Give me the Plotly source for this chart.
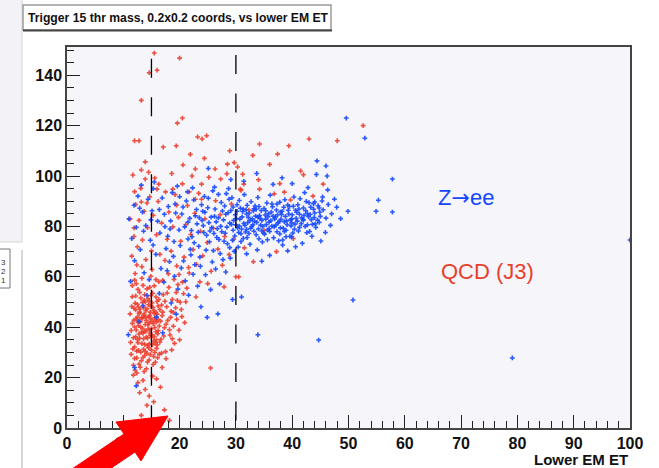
import plotly.graph_objects as go

# ---------------- data ----------------
zee_points = [
    (22.1,78.4),(22.8,84.2),(23.4,72.1),(23.9,88.6),(24.2,80.3),(24.8,76.5),(25.1,91.2),(25.6,83.7),(26.0,70.4),(26.3,86.9),
    (26.7,79.1),(27.0,74.8),(27.4,89.5),(27.8,82.6),(28.1,77.3),(28.3,93.0),(28.6,85.4),(28.9,71.6),(29.2,80.8),(29.5,87.7),
    (29.8,76.2),(30.1,83.1),(30.3,79.4),(30.6,90.3),(30.9,74.0),(31.2,85.9),(31.4,81.2),(31.7,77.8),(32.0,88.4),(32.2,83.6),
    (32.5,72.9),(32.8,79.9),(33.1,86.2),(33.3,82.0),(33.6,76.7),(33.9,91.5),(34.2,84.3),(34.4,80.5),(34.7,73.8),(35.0,87.1),
    (35.3,82.9),(35.6,78.6),(35.8,85.0),(36.1,92.4),(36.4,80.1),(36.7,75.5),(37.0,83.8),(37.3,88.9),(37.5,81.4),(37.8,77.0),
    (38.1,84.7),(38.4,79.3),(38.7,90.6),(39.0,82.2),(39.3,86.4),(39.6,76.1),(39.9,83.0),(40.2,88.0),(40.5,80.9),(40.8,85.6),
    (41.1,78.2),(41.4,91.0),(41.7,83.4),(42.0,87.3),(42.3,80.0),(42.7,85.1),(43.0,89.4),(43.4,82.7),(43.8,86.8),(44.2,79.6),
    (44.6,88.2),(45.0,84.0),(45.3,90.1),
    (22.5,90.5),(23.1,81.0),(23.6,67.8),(24.5,85.6),(25.3,73.9),(25.9,94.1),(26.5,81.8),(27.2,69.2),(27.6,86.1),(28.4,79.7),
    (28.8,90.8),(29.4,74.5),(29.9,84.6),(30.4,71.8),(30.8,87.2),(31.0,79.0),(31.5,92.6),(31.9,84.9),(32.3,77.2),(32.7,89.8),
    (33.0,80.6),(33.5,84.1),(33.8,70.7),(34.1,87.9),(34.6,82.4),(35.1,76.9),(35.5,89.3),(35.9,81.7),(36.3,85.7),(36.8,79.8),
    (37.2,86.5),(37.6,74.3),(38.0,82.8),(38.5,87.6),(38.9,78.5),(39.4,84.9),(39.8,80.2),(40.3,91.7),(40.7,83.2),(41.2,86.9),
    (41.6,81.1),(42.1,84.4),(42.5,89.9),(42.9,83.9),(43.6,80.8),(44.0,85.3),(44.5,82.5),(45.5,86.6),(46.0,83.3),(46.4,88.7),
    (47.0,85.0),
    (29.6,82.4),(30.0,80.6),(30.2,86.0),(30.5,77.6),(30.7,82.9),(31.1,83.8),(31.3,75.2),(31.6,80.4),(31.8,86.6),(32.1,81.5),
    (32.4,85.3),(32.6,79.2),(32.9,83.0),(33.2,78.1),(33.4,88.1),(33.7,81.6),(34.0,79.0),(34.3,83.2),(34.5,86.3),(34.8,80.0),
    (34.9,77.4),(35.2,84.5),(35.4,80.7),(35.7,83.9),(36.0,78.0),(36.2,82.3),(36.5,87.8),(36.9,83.0),(37.1,80.5),(37.4,84.6),
    (37.7,82.0),(37.9,79.4),(38.2,86.0),(38.6,81.9),(38.8,84.0),(39.1,80.7),(39.5,87.9),(39.7,82.6),(40.0,84.6),(40.4,78.9),
    (40.9,82.1),(41.3,84.8),(41.9,82.8),(42.4,86.2),(43.2,84.7),(43.9,83.5),(44.8,81.6),
    (20.1,72.4),(20.4,84.9),(20.7,66.3),(20.9,79.8),(21.2,90.1),(21.5,75.0),(21.8,83.2),(22.0,68.7),(22.3,95.3),(22.6,73.5),
    (23.0,86.7),(23.3,77.7),(23.7,64.2),(24.0,82.4),(24.4,91.9),(24.7,70.6),(25.0,87.4),(25.4,78.2),(25.8,65.9),(26.2,84.0),
    (26.6,75.6),(26.9,92.7),(27.3,80.0),(27.7,66.8),(28.0,88.1),(28.5,73.1),(28.7,95.0),(29.0,67.4),(29.3,91.4),(29.7,70.1),
    (17.2,57.9),(17.8,62.4),(18.5,49.6),(19.1,60.2),(19.7,55.1),(20.3,63.5),(21.0,58.4),(21.6,52.7),(22.4,61.0),(23.2,56.3),
    (23.8,48.1),(24.6,60.8),(25.5,54.9),(26.4,63.1),(27.1,57.2),(28.2,61.9),(29.4,51.0),(31.0,52.0),(26.8,45.3),(24.9,43.9),
    (22.7,64.8),(19.4,45.2),(18.2,66.0),
    (11.0,83.0),(11.5,75.2),(11.9,88.4),(12.3,79.6),(12.6,92.0),(13.0,70.8),(13.4,85.7),(13.7,61.6),(14.0,80.3),(14.4,90.8),
    (14.8,74.5),(15.1,86.2),(15.5,97.6),(15.8,68.9),(16.1,82.1),(16.5,77.4),(16.9,91.3),(17.3,84.8),(17.6,71.2),(18.0,87.9),
    (18.3,79.0),(18.7,93.4),(19.0,74.0),(19.3,85.3),(19.6,96.0),(19.9,78.6),(13.2,96.4),(12.0,66.4),(14.6,58.9),(16.7,63.3),
    (18.9,68.1),(17.9,76.1),(15.3,72.6),(11.3,58.2),(15.3,95.0),(21.4,93.7),
    (10.9,37.0),(12.0,24.0),(12.3,16.7),(13.5,48.5),(14.2,52.6),(15.9,44.0),(16.4,53.4),(12.8,42.3),(17.0,37.8),
    (25.1,103.0),(33.7,101.0),(40.0,97.0),(26.2,95.6),(36.6,96.7),(42.8,95.4),(38.2,99.3),(31.4,97.9),(44.3,100.6),
    (46.3,94.5),(29.1,98.6),
    (49.6,123.0),(52.9,115.0),(44.4,106.0),(46.0,104.0),(46.2,100.0),(57.8,98.8),(55.3,90.4),(49.9,86.0),(54.9,86.0),
    (57.8,85.7),(100.0,74.6),(50.8,50.8),(44.7,34.9),(79.1,27.8),(33.9,37.0),(45.4,91.7),(44.8,87.3),(44.0,89.7),(47.5,90.8),
    (46.8,80.4),(45.9,77.6),(43.5,76.1),(41.8,73.3),(40.6,71.9),(38.3,72.6),(42.2,93.4),(47.9,87.6),(48.6,83.1),(43.1,78.0),
    (39.2,70.3),(36.0,68.5),(34.6,66.2),(31.9,69.1),(45.1,74.2),(39.9,75.8),(38.3,74.6),
    (24.1,86.0),(25.7,79.5),(26.9,83.4),(27.5,77.9),(28.2,84.8),(28.9,81.3),(29.5,78.5),(30.2,88.6),(30.6,80.1),(31.3,86.9),
    (31.9,78.8),(32.5,82.3),(33.2,87.0),(33.9,83.7),(34.6,78.2),(35.3,86.2),(35.9,79.1),(36.6,84.1),(37.3,77.9),(37.9,85.7),
    (38.6,78.0),(39.2,88.5),(39.9,81.4),(40.6,86.4),(41.3,79.6),(42.0,82.5),(42.7,80.6),(43.3,87.6),(44.1,81.0),(44.9,85.6),
    (21.5,81.7),(22.2,75.9),(23.5,83.5),(24.3,77.6),(25.2,81.5),(26.1,77.2),(27.9,74.1),(29.1,86.3),(30.9,77.1),(32.0,75.6),
    (33.6,86.8),(34.1,75.1),(35.6,74.7),(36.4,88.9),(37.8,89.6),(38.9,75.9),(40.1,77.4),(41.0,88.6),(42.6,77.5),(43.8,89.0),
    (18.4,82.2),(19.2,88.9),(20.6,87.7),(21.9,70.9),(16.4,86.7),(14.9,82.6),(13.6,78.1),(12.9,87.2),(17.4,79.9),(20.0,91.8),
]

qcd_points = [
    (11.2,45.3),(11.4,38.7),(11.6,52.1),(11.7,31.4),(11.9,42.8),(12.0,27.6),(12.1,49.5),(12.2,36.2),(12.3,57.3),(12.4,21.8),
    (12.5,44.0),(12.6,33.9),(12.7,40.6),(12.8,25.3),(12.9,53.8),(13.0,47.2),(13.1,30.1),(13.2,38.0),(13.3,59.4),(13.4,43.5),
    (13.5,18.9),(13.6,35.4),(13.7,50.7),(13.8,28.8),(13.9,41.1),(14.0,46.6),(14.1,23.5),(14.2,55.2),(14.3,32.7),(14.4,39.3),
    (14.5,48.9),(14.6,27.0),(14.7,44.7),(14.8,36.8),(14.9,52.6),(15.0,30.9),(15.1,42.2),(15.2,20.6),(15.3,47.8),(15.4,34.5),
    (15.5,56.4),(15.6,39.9),(15.7,26.1),(15.8,45.9),(15.9,31.6),(16.0,50.2),(16.1,37.4),(16.2,43.0),(16.3,58.1),(16.4,29.3),
    (16.5,47.0),
    (11.3,34.0),(11.5,48.2),(11.8,24.9),(12.0,40.1),(12.2,46.9),(12.4,30.5),(12.6,55.0),(12.8,37.3),(13.0,42.1),(13.2,26.7),
    (13.4,49.8),(13.6,44.4),(13.8,33.2),(14.0,38.5),(14.2,29.6),(14.4,51.3),(14.6,41.7),(14.8,46.0),(15.0,35.9),(15.2,53.5),
    (15.4,28.4),(15.6,43.8),(15.8,38.2),(16.0,33.0),(16.2,48.4),(16.4,40.5),(12.1,61.3),(13.3,64.0),(14.9,60.2),(11.6,56.5),
    (12.5,35.1),(12.9,46.0),(13.1,40.0),(13.5,37.6),(13.7,45.2),(13.9,50.0),(14.1,42.6),(14.3,35.7),(14.5,44.1),(14.7,39.0),
    (14.9,48.3),(15.1,37.0),(15.3,41.4),(15.5,45.5),(15.7,33.8),(12.3,43.2),(12.7,48.0),(13.6,31.2),(14.6,33.4),(15.9,42.0),
    (11.4,29.2),(11.6,41.5),(11.8,35.8),(11.9,47.6),(12.0,32.2),(12.1,22.9),(12.2,52.4),(12.3,38.9),(12.4,27.8),(12.5,49.1),
    (12.6,41.9),(12.7,30.8),(12.8,45.4),(12.9,35.6),(13.0,24.1),(13.1,51.6),(13.2,43.7),(13.3,33.5),(13.4,39.6),(13.5,28.0),
    (13.6,47.9),(13.7,38.3),(13.8,52.9),(13.9,30.4),(14.0,43.9),(14.1,36.1),(14.2,47.3),(14.3,26.2),(14.4,41.0),(14.5,31.8),
    (14.6,50.4),(14.7,37.7),(14.8,29.1),(14.9,43.3),(15.0,39.4),(15.1,49.6),(15.2,33.1),(15.3,25.2),(15.4,46.7),(15.5,36.3),
    (15.6,30.0),(15.7,42.8),(15.8,52.0),(15.9,35.0),(16.0,45.2),(16.1,27.9),(16.2,38.6),(16.3,51.0),(16.5,34.1),(16.6,42.4),
    (16.8,29.7),(17.0,46.0),(17.2,36.5),(17.4,50.3),(17.6,41.2),(12.0,58.7),(13.5,56.6),(14.7,55.8),(15.8,58.9),(17.8,53.6),
    (18.2,39.0),(18.9,45.9),(19.4,53.8),(20.3,47.0),(21.1,50.1),(19.9,60.9),(21.6,63.7),(22.9,52.0),(20.5,57.9),(18.7,35.4),
    (12.6,18.0),(13.9,15.3),(14.6,12.7),(15.9,19.5),(12.9,14.0),(15.4,10.4),(16.6,16.2),(13.2,5.0),(17.3,7.2),(18.2,3.0),
    (11.8,21.0),(14.2,9.0),(13.7,22.4),(16.9,24.0),
    (16.7,35.2),(16.9,44.6),(17.1,52.9),(17.3,39.8),(17.5,30.3),(17.7,48.1),(17.9,42.7),(18.1,55.8),(18.3,36.9),(18.5,46.3),
    (18.7,51.0),(18.9,40.4),(19.1,33.6),(19.3,47.7),(19.5,43.1),(19.7,56.9),(19.9,38.8),(20.1,49.9),(20.4,44.2),(20.7,53.3),
    (17.0,58.6),(18.0,61.2),(19.0,59.0),(17.6,27.5),(18.6,31.0),(20.0,35.0),(16.8,48.8),(18.4,43.9),(19.6,50.6),(20.9,41.8),
    (11.5,68.2),(11.9,76.0),(12.2,88.7),(12.5,71.9),(12.8,82.4),(13.1,95.1),(13.4,74.6),(13.7,86.0),(14.0,66.8),(14.3,79.5),
    (14.7,91.8),(15.0,70.3),(15.3,84.4),(15.6,99.2),(15.9,76.7),(16.2,89.9),(16.5,68.9),(16.8,81.3),(12.0,93.8),(14.5,101.5),
    (11.7,100.4),(13.9,105.6),(16.3,96.8),(15.1,62.9),(12.4,64.7),
    (15.5,148.8),(20.0,146.8),(14.6,141.0),(16.0,142.0),(13.2,130.0),(20.5,123.0),(19.6,121.0),(12.0,114.0),(12.8,114.0),
    (17.1,111.5),(19.4,112.0),(23.2,115.5),(24.0,114.7),(24.8,116.0),(28.9,110.0),(34.2,112.7),(39.4,112.0),(43.0,114.7),
    (48.0,114.0),(52.6,120.0),(41.5,102.0),(39.7,90.5),(37.8,97.0),(37.4,108.7),(28.5,104.7),(30.3,103.6),(27.3,98.8),
    (22.8,102.8),(23.9,96.8),(13.2,102.4),(13.9,98.8),(31.4,96.8),(30.8,94.8),(34.2,94.8),(13.2,89.7),(14.2,89.3),
    (19.5,88.5),(16.0,94.8),(17.5,93.7),(18.8,94.8),(21.7,93.7),(23.9,90.8),(22.8,90.8),(11.2,83.0),(11.9,79.4),
    (17.4,66.5),(17.8,74.9),(18.1,85.7),(18.5,70.2),(18.8,79.8),(19.2,92.6),(19.5,64.3),(19.8,83.6),(20.2,74.1),(20.5,96.9),
    (20.8,67.8),(21.1,80.7),(21.4,88.3),(21.7,61.5),(22.0,76.8),(22.4,70.8),(22.7,85.2),(23.0,64.9),(23.4,93.1),(23.7,78.1),
    (24.1,68.3),(24.5,83.0),(24.9,73.6),(25.2,99.5),(25.6,62.2),(26.0,79.3),(26.4,90.2),(26.8,71.0),(27.2,84.6),(27.6,64.6),
    (28.0,76.0),(28.4,100.9),(28.8,68.8),(29.2,88.9),(29.6,74.9),(30.0,60.0),(30.5,60.0),(30.9,94.3),(31.5,71.5),(32.3,86.5),
    (33.1,66.0),(34.0,98.5),(35.0,78.4),(36.0,104.6),(37.2,70.0),(38.6,93.6),(40.2,75.2),(42.0,100.5),(43.7,92.0),(26.3,102.8),
    (22.2,100.0),(23.6,58.0),(21.3,55.5),(25.0,57.3),(27.9,56.0),(24.4,107.0),(20.6,104.4),(18.6,101.0),(21.9,108.6),
    (25.5,23.8),(29.7,105.3),(33.0,108.2),(31.2,100.7),(36.8,92.9),(45.5,96.8),
]

zee_et = [p[0] for p in zee_points]
zee_mass = [p[1] for p in zee_points]
qcd_et = [p[0] for p in qcd_points]
qcd_mass = [p[1] for p in qcd_points]

cut_lines = [15, 30]
x_ticks = list(range(0, 101, 10))
y_ticks = list(range(0, 141, 20))
title_text = "Trigger 15 thr mass, 0.2x0.2 coords, vs lower EM ET"
x_title = "Lower EM ET"
label_qcd = "QCD (J3)"

# ---------------- layout helpers (pixel -> paper) ----------------
W, H = 659, 468
ML, MR, MT, MB = 67, 29, 47, 40
PW, PH = W - ML - MR, H - MT - MB


def fx(px):
    return (px - ML) / PW


def fy(py):
    return (H - MB - py) / PH


BLUE = "rgb(22,72,255)"
RED = "rgb(236,62,46)"
FONT = "Liberation Sans, Arial, sans-serif"

fig = go.Figure()
fig.add_trace(go.Scatter(x=qcd_et, y=qcd_mass, mode="markers",
                         marker=dict(symbol="cross", size=4, color=RED, opacity=0.9, line=dict(width=0)),
                         hoverinfo="x+y", showlegend=False))
fig.add_trace(go.Scatter(x=zee_et, y=zee_mass, mode="markers",
                         marker=dict(symbol="cross", size=4, color=BLUE, opacity=0.9, line=dict(width=0)),
                         hoverinfo="x+y", showlegend=False))

shapes = []
for xv, top in zip(cut_lines, [146.5, 148.0]):
    shapes.append(dict(type="line", xref="x", yref="y", x0=xv, x1=xv, y0=top, y1=0,
                       line=dict(color="black", width=1.3, dash="19px,19.5px"), layer="above"))

# left strip from the screenshot
shapes.append(dict(type="rect", xref="paper", yref="paper", x0=fx(-2), x1=fx(22), y0=fy(-2), y1=fy(242),
                   fillcolor="#f3f2f6", line=dict(color="#d6d6d8", width=1), layer="below"))
shapes.append(dict(type="line", xref="paper", yref="paper", x0=fx(22), x1=fx(22), y0=fy(250), y1=fy(470),
                   line=dict(color="#c8c8ca", width=1.5)))
shapes.append(dict(type="rect", xref="paper", yref="paper", x0=fx(-2), x1=fx(10), y0=fy(249), y1=fy(288),
                   fillcolor="white", line=dict(color="#777", width=1)))
# title box
shapes.append(dict(type="rect", xref="paper", yref="paper", x0=fx(23), x1=fx(331), y0=fy(5), y1=fy(30),
                   fillcolor="white", line=dict(color="#9a9a9a", width=1.5)))
shapes.append(dict(type="line", xref="paper", yref="paper", x0=fx(23), x1=fx(332), y0=fy(30.5), y1=fy(30.5),
                   line=dict(color="#444", width=2)))
# red arrow
pts = [(168, 416), (116, 422), (124, 434), (41, 490), (52, 508), (135, 452), (141, 461)]
path = "M " + " L ".join(f"{fx(a):.4f},{fy(b):.4f}" for a, b in pts) + " Z"
shapes.append(dict(type="path", xref="paper", yref="paper", path=path,
                   fillcolor="#ff0000", line=dict(color="#ff0000", width=1), layer="above"))

annotations = [
    dict(text=f"<b>{title_text}</b>", xref="paper", yref="paper", x=fx(26), y=fy(17.5),
         xanchor="left", yanchor="middle", showarrow=False, font=dict(family=FONT, size=12.2, color="#111")),
    dict(text=f"<b>{x_title}</b>", xref="paper", yref="paper", x=fx(630), y=fy(459.5),
         xanchor="right", yanchor="middle", showarrow=False, font=dict(family=FONT, size=15, color="#111")),
    dict(text="Z<span style='font-family:DejaVu Sans'>\u2192</span>ee", xref="x", yref="y", x=65.5, y=91.5,
         xanchor="left", yanchor="middle",
         showarrow=False, font=dict(family=FONT, size=22, color="rgb(20,70,255)")),
    dict(text=label_qcd, xref="x", yref="y", x=66.0, y=62.3, xanchor="left", yanchor="middle",
         showarrow=False, font=dict(family=FONT, size=22, color="rgb(232,64,44)")),
]
for i, t in enumerate(["3", "2", "1"]):
    annotations.append(dict(text=t, xref="paper", yref="paper", x=fx(8), y=fy(262 + i * 9),
                            xanchor="right", yanchor="middle", showarrow=False,
                            font=dict(family=FONT, size=8, color="#333")))

fig.update_layout(
    width=W, height=H,
    margin=dict(l=ML, r=MR, t=MT, b=MB, pad=0),
    paper_bgcolor="white",
    plot_bgcolor="#f6f5f9",
    shapes=shapes,
    annotations=annotations,
    showlegend=False,
    xaxis=dict(range=[0, 100], tickvals=x_ticks, ticks="inside", ticklen=13, tickwidth=1.2, tickcolor="#222",
               minor=dict(ticks="inside", dtick=2, ticklen=7, tickcolor="#222", tickwidth=1),
               showgrid=False, zeroline=False, showline=True, linecolor="#444", linewidth=1.5, mirror=True,
               tickfont=dict(family=FONT, size=16, color="#111", weight="bold")),
    yaxis=dict(range=[0, 151.2], tickvals=y_ticks, ticks="inside", ticklen=13, tickwidth=1.2, tickcolor="#222",
               minor=dict(ticks="inside", dtick=5, ticklen=7, tickcolor="#222", tickwidth=1),
               showgrid=False, zeroline=False, showline=True, linecolor="#444", linewidth=1.5, mirror=True,
               tickfont=dict(family=FONT, size=16, color="#111", weight="bold")),
)

fig.write_html("out.html", config={"displayModeBar": False},
               post_script="document.body.style.margin='0';")
